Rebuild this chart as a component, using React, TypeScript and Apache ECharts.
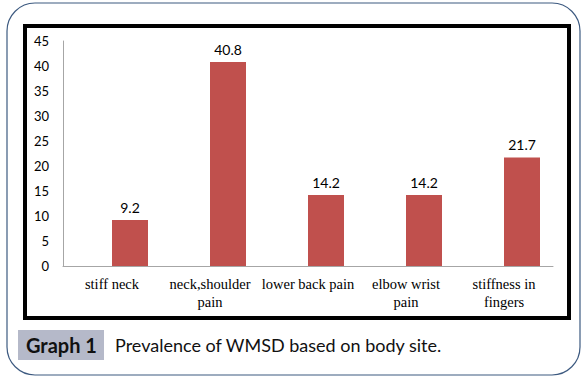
import React, { useEffect, useRef } from "react";
import * as echarts from "echarts";

const categories = ["stiff neck", "neck,shoulder\npain", "lower back pain", "elbow wrist\npain", "stiffness in\nfingers"];
const values = [9.2, 40.8, 14.2, 14.2, 21.7];
const emptySeries = [null, null, null, null, null];
const captionTag = "Graph 1";
const captionText = "Prevalence of WMSD based on body site.";

export default function App() {
  const ref = useRef<HTMLDivElement>(null);
  useEffect(() => {
    if (!ref.current) return;
    const chart = echarts.init(ref.current, null, { renderer: "svg" });
    chart.setOption({
      animation: false,
      backgroundColor: "#ffffff",
      grid: { left: 63, right: 31, top: 41, bottom: 114, containLabel: false },
      xAxis: {
        type: "category",
        data: categories,
        axisLine: { lineStyle: { color: "#a6a6a6", width: 1 } },
        axisTick: { show: false },
        axisLabel: {
          color: "#000",
          fontFamily: "Liberation Serif",
          fontSize: 14.5,
          lineHeight: 18,
          margin: 9,
          interval: 0,
        },
      },
      yAxis: {
        type: "value",
        min: 0,
        max: 45,
        interval: 5,
        splitLine: { show: false },
        axisLine: { show: true, lineStyle: { color: "#a6a6a6", width: 1 } },
        axisTick: { show: false },
        axisLabel: { color: "#000", fontFamily: "Lato", fontSize: 13, margin: 14 },
      },
      series: [
        {
          type: "bar",
          data: emptySeries,
          barWidth: 36,
          barGap: "0%",
          itemStyle: { color: "#4F81BD" },
        },
        {
          type: "bar",
          data: values,
          barWidth: 36,
          barGap: "0%",
          itemStyle: { color: "#C0504D" },
          label: {
            show: true,
            position: "top",
            distance: 6,
            color: "#000",
            fontFamily: "Lato",
            fontSize: 14,
          },
        },
      ],
      graphic: [
        {
          type: "rect",
          shape: { x: 7, y: 3, width: 573, height: 372, r: 28 },
          style: { fill: "none", stroke: "#3d5a80", lineWidth: 1.2 },
          silent: true,
        },
        {
          type: "rect",
          shape: { x: 25, y: 26, width: 544, height: 292 },
          style: { fill: "none", stroke: "#000", lineWidth: 4 },
          silent: true,
        },
        {
          type: "rect",
          shape: { x: 18, y: 330, width: 86, height: 30 },
          style: { fill: "#b5b9c9" },
          silent: true,
        },
        {
          type: "text",
          x: 26,
          y: 345,
          style: {
            text: captionTag,
            fill: "#111",
            font: "bold 20px Lato",
            textVerticalAlign: "middle",
          },
          silent: true,
        },
        {
          type: "text",
          x: 115,
          y: 345,
          style: {
            text: captionText,
            fill: "#111",
            font: "18px Lato",
            textVerticalAlign: "middle",
          },
          silent: true,
        },
      ],
    });
    return () => chart.dispose();
  }, []);
  return (
    <div style={{ position: "fixed", left: 0, top: 0, width: 584, height: 380, background: "#fff" }}>
      <div ref={ref} style={{ width: 584, height: 380 }} />
    </div>
  );
}
